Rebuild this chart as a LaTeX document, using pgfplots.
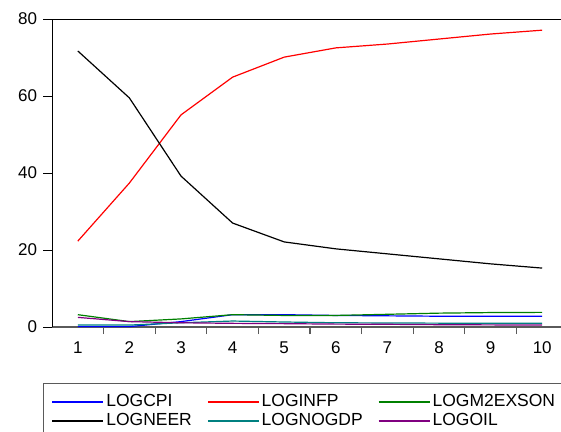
\documentclass[border=0pt]{standalone}
\usepackage{fontspec}
\setmainfont{Liberation Sans}
\usepackage{pgfplots}
\pgfplotsset{compat=1.18}
\definecolor{evgreen}{RGB}{0,128,0}
\definecolor{evteal}{RGB}{0,128,128}
\definecolor{evpurple}{RGB}{128,0,128}
\definecolor{axgray}{RGB}{90,90,90}
\begin{document}
\fontsize{17bp}{20bp}\selectfont
\begin{tikzpicture}
\begin{axis}[
  at={(0,0)}, anchor=south west,
  scale only axis, width=516bp, height=308bp,
  xmin=0.5, xmax=10.5, ymin=0, ymax=80,
  clip=false,
  axis x line*=bottom, axis y line*=left,
  x axis line style={axgray, line width=1.6bp},
  y axis line style={black, line width=0.8bp},
  tick align=outside,
  xtick={1,...,10},
  major x tick style={draw=none},
  minor xtick={1.5,2.5,...,9.5},
  minor tick length=7bp,
  minor x tick style={axgray, line width=1.2bp},
  ytick={0,20,40,60,80},
  major y tick style={black, line width=0.8bp},
  major tick length=9bp,
  tick label style={font=\fontsize{17bp}{20bp}\selectfont},
  /pgf/number format/assume math mode=true,
  legend columns=3,
  legend cell align=left,
  legend style={at={(-0.01744,-0.1818)}, anchor=north west,
    draw=axgray, line width=1bp,
    font=\fontsize{17.5bp}{20bp}\selectfont,
    /tikz/every even column/.append style={column sep=13bp},
    inner xsep=8bp, inner ysep=9bp},
  legend image code/.code={\draw[line width=1.8bp, #1] (0bp,0bp) -- (51bp,0bp);},
  every axis plot/.append style={line width=1.2bp, mark=none},
]
\addplot[blue, forget plot] coordinates {(1,0.1) (2,0.1) (3,1.4) (4,3.2) (5,3.2) (6,3.0) (7,2.9) (8,2.8) (9,2.8) (10,2.8)};
\addplot[red, forget plot] coordinates {(1,22.3) (2,37.4) (3,55.1) (4,64.9) (5,70.1) (6,72.5) (7,73.5) (8,74.8) (9,76.1) (10,77.1)};
\addplot[evgreen, forget plot] coordinates {(1,3.2) (2,1.4) (3,2.1) (4,3.2) (5,3.0) (6,3.0) (7,3.3) (8,3.6) (9,3.75) (10,3.8)};
\addplot[black, forget plot] coordinates {(1,71.7) (2,59.5) (3,39.2) (4,27.0) (5,22.1) (6,20.3) (7,19.0) (8,17.7) (9,16.4) (10,15.3)};
\addplot[evteal, forget plot] coordinates {(1,0.5) (2,0.5) (3,1.1) (4,1.55) (5,1.3) (6,1.1) (7,1.05) (8,1.0) (9,1.0) (10,1.0)};
\addplot[evpurple, forget plot] coordinates {(1,2.5) (2,1.4) (3,1.1) (4,0.95) (5,0.87) (6,0.75) (7,0.7) (8,0.6) (9,0.55) (10,0.5)};
\addlegendimage{draw=blue}
\addlegendentry{LOGCPI}
\addlegendimage{draw=red}
\addlegendentry{LOGINFP}
\addlegendimage{draw=evgreen}
\addlegendentry{LOGM2EXSON}
\addlegendimage{draw=black}
\addlegendentry{LOGNEER}
\addlegendimage{draw=evteal}
\addlegendentry{LOGNOGDP}
\addlegendimage{draw=evpurple}
\addlegendentry{LOGOIL}
\draw[black, line width=0.8bp] (rel axis cs:0,1) -- (rel axis cs:1,1);
\end{axis}
\pgfresetboundingbox
\useasboundingbox (-52bp,-105bp) rectangle (509bp,327bp);
\end{tikzpicture}
\end{document}
